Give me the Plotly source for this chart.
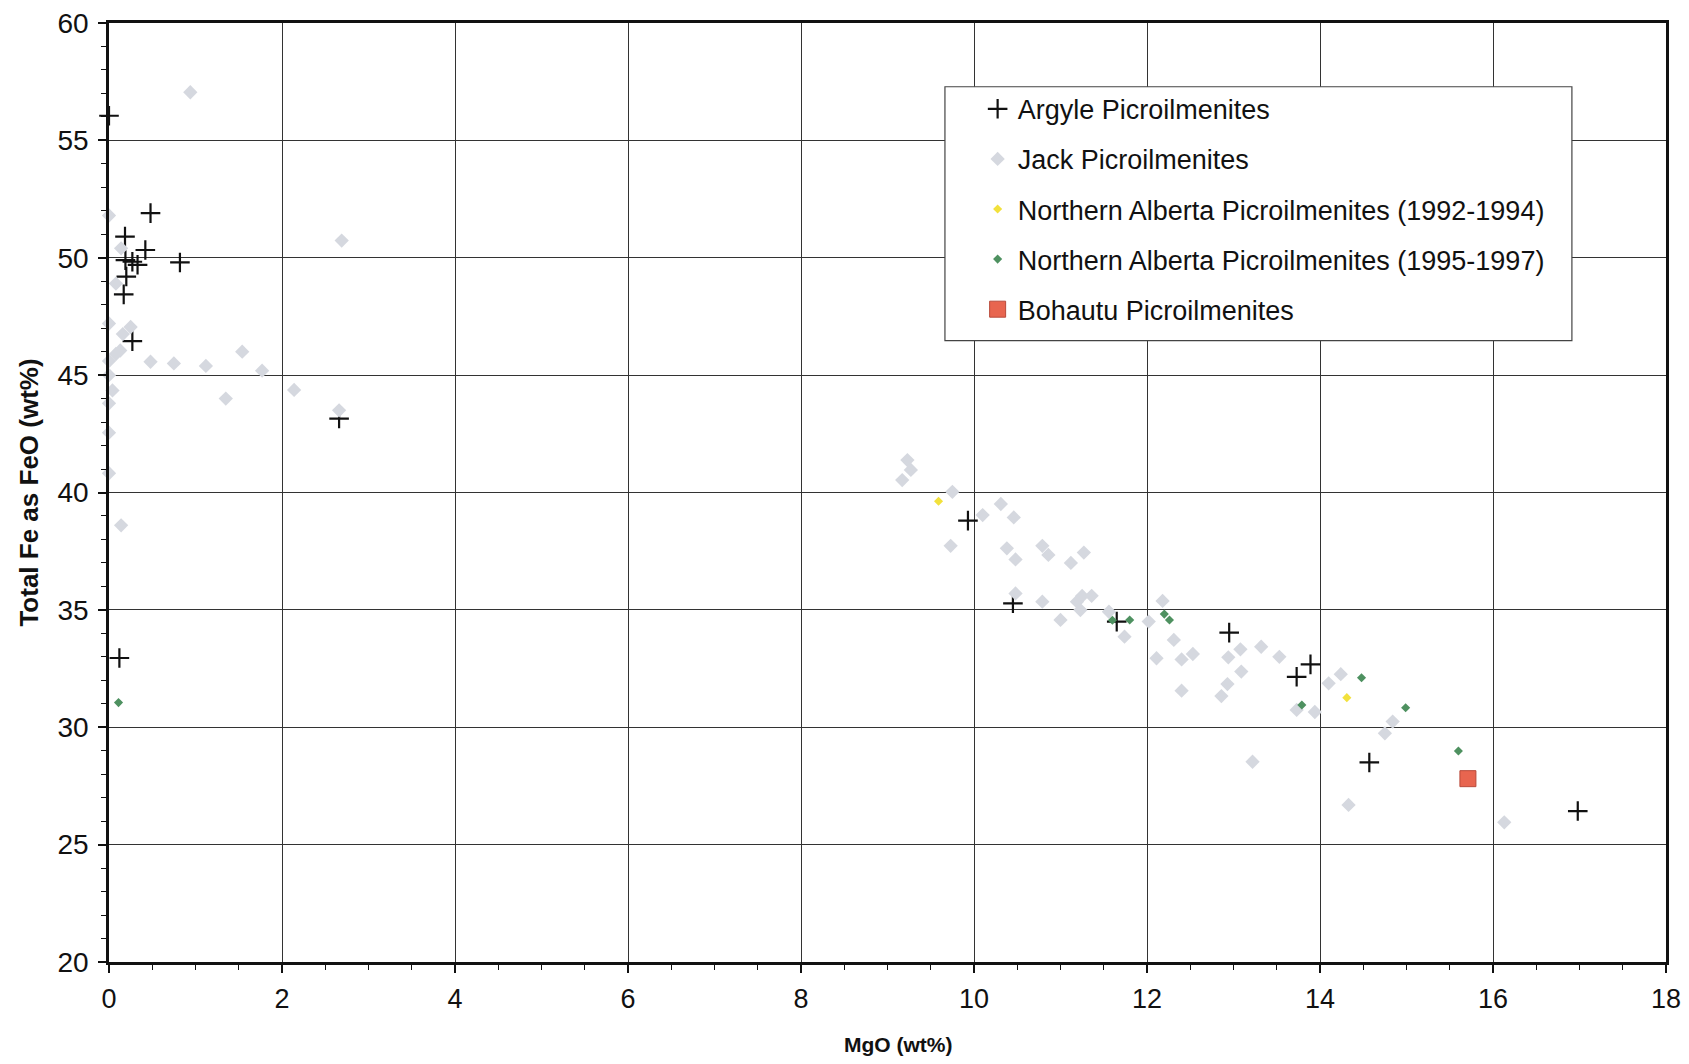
import plotly.graph_objects as go

# ---------------- data ----------------
argyle_x = [0.0, 0.48, 0.185, 0.42, 0.19, 0.27, 0.33, 0.82, 0.20, 0.17, 0.27, 2.66, 0.12,
            9.93, 10.45, 11.65, 12.95, 13.73, 13.89, 14.57, 16.98]
argyle_y = [56.05, 51.9, 50.9, 50.33, 49.9, 49.83, 49.7, 49.8, 49.2, 48.44, 46.45, 43.15, 32.95,
            38.8, 35.28, 34.5, 34.03, 32.15, 32.68, 28.5, 26.43]

jack_x = [0.94, 0.0, 0.14, 0.08, 0.0, 0.25, 0.16, 0.13, 0.08, 0.0, 0.48, 0.75, 1.12, 1.54, 1.77,
          0.0, 0.04, 2.14, 1.35, 2.69, 0.0, 0.0, 0.0, 0.14, 2.66,
          9.23, 9.27, 9.17, 9.75, 10.10, 10.31, 10.46, 9.73, 10.38, 10.48, 10.79, 10.86, 11.12,
          11.27, 10.48, 10.79, 11.19, 11.25, 11.36, 11.23, 11.00, 11.56, 11.74, 12.02, 12.18,
          12.31, 12.11, 12.40, 12.53, 12.40, 12.94, 13.08, 13.09, 12.93, 12.86, 13.32, 13.53,
          14.10, 14.24, 13.94, 13.73, 13.22, 14.75, 14.84, 14.33, 16.13]
jack_y = [57.05, 51.8, 50.4, 48.9, 47.2, 47.05, 46.75, 46.05, 45.9, 45.6, 45.57, 45.5, 45.39, 46.0, 45.19,
          45.0, 44.35, 44.37, 44.0, 50.73, 43.8, 42.55, 40.82, 38.6, 43.5,
          41.38, 40.96, 40.53, 40.03, 39.04, 39.51, 38.94, 37.73, 37.62, 37.15, 37.73, 37.34, 37.0,
          37.44, 35.7, 35.35, 35.35, 35.59, 35.6, 34.99, 34.57, 34.92, 33.86, 34.5, 35.38,
          33.72, 32.94, 32.89, 33.12, 31.56, 32.98, 33.32, 32.37, 31.84, 31.33, 33.43, 33.0,
          31.87, 32.26, 30.65, 30.74, 28.53, 29.74, 30.24, 26.69, 25.95]

na9294_x = [9.59, 14.31]
na9294_y = [39.63, 31.26]

na9597_x = [0.11, 11.60, 11.80, 12.20, 12.26, 13.79, 14.48, 14.99, 15.60]
na9597_y = [31.05, 34.56, 34.57, 34.82, 34.57, 30.95, 32.11, 30.83, 28.99]

bohautu_x = [15.71]
bohautu_y = [27.81]

x_ticks = [0, 2, 4, 6, 8, 10, 12, 14, 16, 18]
y_ticks = [20, 25, 30, 35, 40, 45, 50, 55, 60]

FONT = "Liberation Sans, Arial, sans-serif"

fig = go.Figure()

fig.add_trace(go.Scatter(
    x=argyle_x, y=argyle_y, mode="markers", name="Argyle Picroilmenites",
    legendgroup="a",
    marker=dict(symbol="cross-thin", size=14, line=dict(color="#111111", width=2.2), color="#111111"),
    cliponaxis=False))
fig.add_trace(go.Scatter(
    x=jack_x, y=jack_y, mode="markers", name="Jack Picroilmenites",
    legendgroup="b",
    marker=dict(symbol="diamond", size=11, color="#d5d8df", line=dict(width=0)),
    cliponaxis=False))
fig.add_trace(go.Scatter(
    x=na9294_x, y=na9294_y, mode="markers", name="Northern Alberta Picroilmenites (1992-1994)",
    legendgroup="c",
    marker=dict(symbol="diamond", size=7, color="#f2e13c", line=dict(width=0)),
    cliponaxis=False))
fig.add_trace(go.Scatter(
    x=na9597_x, y=na9597_y, mode="markers", name="Northern Alberta Picroilmenites (1995-1997)",
    legendgroup="d",
    marker=dict(symbol="diamond", size=7, color="#4e9160", line=dict(width=0)),
    cliponaxis=False))
fig.add_trace(go.Scatter(
    x=bohautu_x, y=bohautu_y, mode="markers", name="Bohautu Picroilmenites",
    legendgroup="e",
    marker=dict(symbol="square", size=16, color="#e8654f", line=dict(color="#b84a3a", width=1)),
    cliponaxis=False))

L, R, T, B = 109, 8, 19, 102
W, H = 1689, 1064
pw, ph = W - L - R, H - T - B

def px2paper_x(px):
    return (px - L) / pw

def px2paper_y(py):
    return 1 - (py - T) / ph

# legend box as shape
fig.add_shape(type="rect", xref="paper", yref="paper",
              x0=px2paper_x(953), x1=px2paper_x(1586),
              y0=px2paper_y(338), y1=px2paper_y(83),
              line=dict(color="#444444", width=1.2), fillcolor="white", layer="above")

# x-axis title (placed slightly right of centre as in the original)
fig.add_annotation(text="<b>MgO (wt%)</b>", xref="paper", yref="paper",
                   x=px2paper_x(906), y=px2paper_y(1045), xanchor="center", yanchor="middle",
                   showarrow=False, font=dict(family=FONT, size=21, color="#111111"))

fig.update_layout(
    width=W, height=H,
    margin=dict(l=L, r=R, t=T, b=B),
    paper_bgcolor="white", plot_bgcolor="white",
    font=dict(family=FONT, color="#111111"),
    showlegend=True,
    legend=dict(x=px2paper_x(986), y=px2paper_y(81), xanchor="left", yanchor="top",
                bgcolor="rgba(0,0,0,0)", borderwidth=0,
                font=dict(family=FONT, size=27, color="#111111"),
                tracegroupgap=12, traceorder="grouped", itemsizing="trace"),
    xaxis=dict(range=[0, 18], tickvals=x_ticks, ticktext=[str(v) for v in x_ticks],
               showgrid=True, gridcolor="#333333", gridwidth=1,
               showline=True, linecolor="#111111", linewidth=2.5, mirror=True,
               ticks="outside", ticklen=8, tickcolor="#111111", tickwidth=1.5,
               tickfont=dict(family=FONT, size=27, color="#111111"),
               ticklabelstandoff=3, ticklabeloverflow="allow",
               minor=dict(dtick=0.5, ticks="outside", ticklen=5, tickcolor="#111111", tickwidth=1.2, showgrid=False),
               zeroline=False),
    yaxis=dict(range=[20, 60], tickvals=y_ticks, ticktext=[str(v) for v in y_ticks],
               showgrid=True, gridcolor="#333333", gridwidth=1,
               showline=True, linecolor="#111111", linewidth=2.5, mirror=True,
               ticks="outside", ticklen=8, tickcolor="#111111", tickwidth=1.5,
               tickfont=dict(family=FONT, size=28, color="#111111"),
               ticklabelstandoff=4, ticklabeloverflow="allow",
               minor=dict(dtick=1, ticks="outside", ticklen=5, tickcolor="#111111", tickwidth=1.2, showgrid=False),
               zeroline=False,
               title=dict(text="<b>Total Fe as FeO (wt%)</b>", font=dict(family=FONT, size=26, color="#111111"), standoff=12)),
)

fig.write_html("out.html")
